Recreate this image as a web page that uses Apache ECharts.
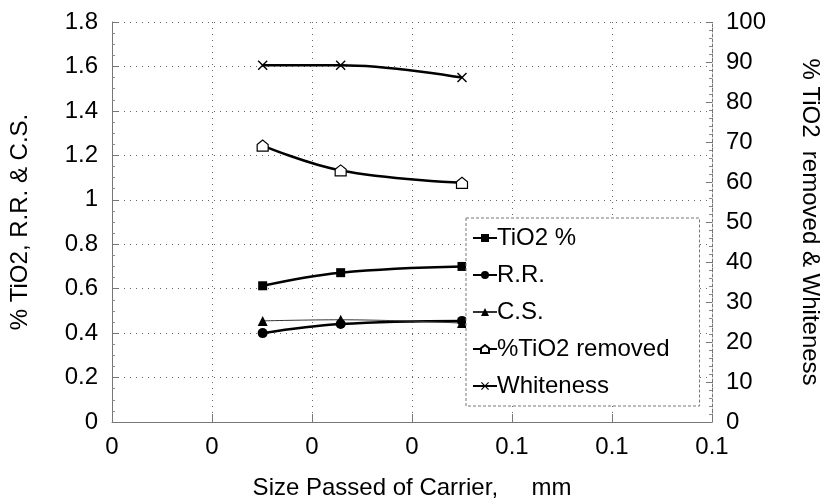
<!DOCTYPE html>
<html lang="en">
  <head>
    <meta charset="UTF-8" />
    <title>TiO2 vs carrier size</title>
    <script src="https://cdn.jsdelivr.net/npm/echarts@6/dist/echarts.min.js"></script>
    <style>
      html, body { margin: 0; padding: 0; background: #fff; }
      #chart { width: 821px; height: 500px; }
    </style>
  </head>
  <body>
    <div id="chart"></div>
    <script>
      // size passed of carrier, mm (x values)
      const sizes = [0.0226, 0.0343, 0.0525];
      // left axis series
      const tio2 = [0.613, 0.672, 0.70];
      const rr = [0.40, 0.441, 0.455];
      const cs = [0.455, 0.46, 0.445];
      // right axis series
      const removed = [69.1, 62.9, 59.8];
      const whiteness = [89.2, 89.2, 86.1];
      // x tick labels as printed on the original (rounded)
      const xTickLabels = ["0", "0", "0", "0", "0.1", "0.1", "0.1"];
      const xStep = 0.015;

      const font = "Liberation Sans, Arial, sans-serif";
      const fs = 24;
      const pair = (ys) => sizes.map((x, i) => [x, ys[i]]);

      const dotted = { color: "#666", width: 1, type: [1, 5] };
      const house = "path://M0,4 L5,0 L10,4 L10,10 L0,10 Z";
      const cross = "path://M0,1 L1,0 L5,4 L9,0 L10,1 L6,5 L10,9 L9,10 L5,6 L1,10 L0,9 L4,5 Z";

      const chart = echarts.init(document.getElementById("chart"));

      chart.setOption({
        animation: false,
        textStyle: { fontFamily: font, color: "#000" },
        grid: { left: 112, right: 109, top: 22, bottom: 78, outerBoundsMode: "none" },
        legend: {
          orient: "vertical",
          left: 466,
          top: 218,
          padding: [8, 30, 8, 6],
          itemGap: 13,
          itemWidth: 24,
          itemHeight: 10,
          backgroundColor: "#fff",
          borderColor: "#777",
          borderWidth: 1,
          borderType: [3, 2],
          textStyle: { fontFamily: font, fontSize: fs, color: "#000", padding: [0, 0, 0, -5] },
          data: ["TiO2 %", "R.R.", "C.S.", "%TiO2 removed", "Whiteness"]
        },
        xAxis: {
          type: "value",
          min: 0,
          max: 0.09,
          interval: xStep,
          name: "Size Passed of Carrier,     mm",
          nameLocation: "middle",
          nameGap: 54,
          nameTextStyle: { fontFamily: font, fontSize: fs, color: "#000" },
          axisLine: { lineStyle: { color: "#777", width: 1 } },
          axisTick: { inside: true, length: 8, lineStyle: { color: "#777" } },
          axisLabel: {
            fontFamily: font,
            fontSize: fs,
            color: "#000",
            margin: 13,
            formatter: (v) => xTickLabels[Math.round(v / xStep)]
          },
          splitLine: { show: true, lineStyle: dotted }
        },
        yAxis: [
          {
            type: "value",
            min: 0,
            max: 1.8,
            interval: 0.2,
            name: "% TiO2, R.R. & C.S.",
            nameLocation: "middle",
            nameGap: 80,
            nameTextStyle: { fontFamily: font, fontSize: fs, color: "#000" },
            axisLine: { show: true, lineStyle: { color: "#777", width: 1 } },
            axisTick: { show: true, inside: true, length: 6, lineStyle: { color: "#777" } },
            minorTick: { show: true, splitNumber: 4, length: 3, lineStyle: { color: "#888" } },
            axisLabel: {
              fontFamily: font,
              fontSize: fs,
              color: "#000",
              margin: 14,
              formatter: (v) => String(Math.round(v * 10) / 10)
            },
            splitLine: { show: true, lineStyle: dotted }
          },
          {
            type: "value",
            min: 0,
            max: 100,
            interval: 10,
            name: "% TiO2  removed & Whiteness",
            nameLocation: "middle",
            nameRotate: -90,
            nameGap: 86,
            nameTextStyle: { fontFamily: font, fontSize: fs, color: "#000" },
            axisLine: { show: true, lineStyle: { color: "#777", width: 1, type: [3, 2] } },
            axisTick: { show: true, inside: true, length: 6, lineStyle: { color: "#777" } },
            minorTick: { show: true, splitNumber: 5, length: 3, lineStyle: { color: "#888" } },
            axisLabel: { fontFamily: font, fontSize: fs, color: "#000", margin: 14 },
            splitLine: { show: false }
          }
        ],
        series: [
          {
            name: "TiO2 %",
            type: "line",
            smooth: 0.4,
            data: pair(tio2),
            symbol: "rect",
            symbolSize: 9,
            lineStyle: { color: "#000", width: 2.5 },
            itemStyle: { color: "#000" }
          },
          {
            name: "R.R.",
            type: "line",
            smooth: 0.4,
            data: pair(rr),
            symbol: "circle",
            symbolSize: 10,
            lineStyle: { color: "#000", width: 2.5 },
            itemStyle: { color: "#000" }
          },
          {
            name: "C.S.",
            type: "line",
            smooth: 0.4,
            data: pair(cs),
            symbol: "triangle",
            symbolSize: 10,
            lineStyle: { color: "#333", width: 1 },
            itemStyle: { color: "#000" }
          },
          {
            name: "%TiO2 removed",
            type: "line",
            smooth: 0.4,
            yAxisIndex: 1,
            data: pair(removed),
            symbol: house,
            symbolSize: 11,
            lineStyle: { color: "#000", width: 2.5 },
            itemStyle: { color: "#fff", borderColor: "#000", borderWidth: 1.2 }
          },
          {
            name: "Whiteness",
            type: "line",
            smooth: 0.4,
            yAxisIndex: 1,
            data: pair(whiteness),
            symbol: cross,
            symbolSize: 10,
            lineStyle: { color: "#000", width: 2.5 },
            itemStyle: { color: "#000" }
          }
        ]
      });
    </script>
  </body>
</html>
